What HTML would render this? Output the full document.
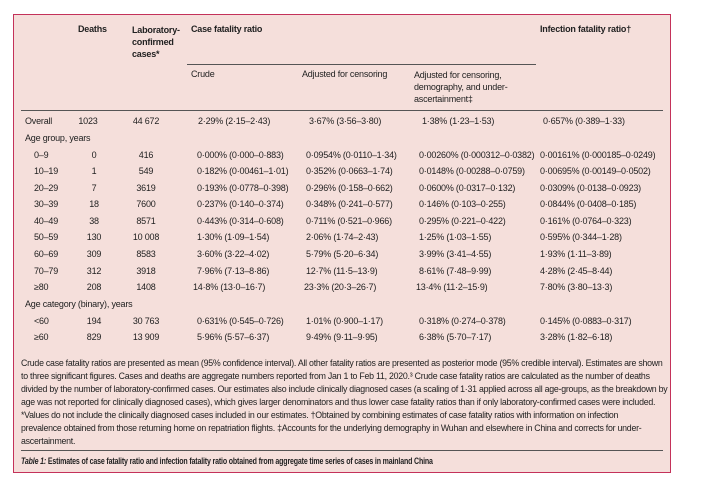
<!DOCTYPE html>
<html><head><meta charset="utf-8"><style>
body{margin:0;width:702px;height:478px;background:#fff;font-family:"Liberation Sans",sans-serif;color:#222;position:relative;overflow:hidden}
.box{position:absolute;left:13px;top:14px;width:656px;height:457px;background:#f5dfdb;border:1px solid #c4325a}
.t{position:absolute;font-size:9px;white-space:nowrap;line-height:11px;letter-spacing:-0.2px}
.b{font-weight:bold}
.c{text-align:center;width:40px}
.hl{position:absolute;height:1px;background:#555}
.f{position:absolute;left:21px;font-size:8.8px;white-space:nowrap;letter-spacing:-0.25px;line-height:11px}
</style></head><body>
<div class="box"></div>
<div class="t b" style="left:78px;top:24px">Deaths</div>
<div class="t b" style="left:132px;top:24px;line-height:12px">Laboratory-<br>confirmed<br>cases*</div>
<div class="t b" style="left:191px;top:24px">Case fatality ratio</div>
<div class="t b" style="left:540px;top:24px">Infection fatality ratio†</div>
<div class="hl" style="left:187px;top:64px;width:349px"></div>
<div class="t" style="left:191px;top:69px">Crude</div>
<div class="t" style="left:302px;top:69px">Adjusted for censoring</div>
<div class="t" style="left:414px;top:69px;line-height:12px">Adjusted for censoring,<br>demography, and under-<br>ascertainment‡</div>
<div class="hl" style="left:21px;top:110px;width:642px"></div>

<div class="t" style="left:25px;top:116px">Overall</div><div class="t c" style="left:68px;top:116px">1023</div><div class="t c" style="left:126px;top:116px">44 672</div><div class="t" style="left:198px;top:116px">2·29% (2·15–2·43)</div><div class="t" style="left:309px;top:116px">3·67% (3·56–3·80)</div><div class="t" style="left:422px;top:116px">1·38% (1·23–1·53)</div><div class="t" style="left:543px;top:116px">0·657% (0·389–1·33)</div>
<div class="t" style="left:25px;top:133px">Age group, years</div>

<div class="t" style="left:34px;top:150px">0–9</div><div class="t c" style="left:74px;top:150px">0</div><div class="t c" style="left:126px;top:150px">416</div><div class="t" style="left:197px;top:150px">0·000% (0·000–0·883)</div><div class="t" style="left:306px;top:150px">0·0954% (0·0110–1·34)</div><div class="t" style="left:419px;top:150px">0·00260% (0·000312–0·0382)</div><div class="t" style="left:540px;top:150px">0·00161% (0·000185–0·0249)</div>
<div class="t" style="left:34px;top:166px">10–19</div><div class="t c" style="left:74px;top:166px">1</div><div class="t c" style="left:126px;top:166px">549</div><div class="t" style="left:197px;top:166px">0·182% (0·00461–1·01)</div><div class="t" style="left:306px;top:166px">0·352% (0·0663–1·74)</div><div class="t" style="left:419px;top:166px">0·0148% (0·00288–0·0759)</div><div class="t" style="left:540px;top:166px">0·00695% (0·00149–0·0502)</div>
<div class="t" style="left:34px;top:183px">20–29</div><div class="t c" style="left:74px;top:183px">7</div><div class="t c" style="left:126px;top:183px">3619</div><div class="t" style="left:197px;top:183px">0·193% (0·0778–0·398)</div><div class="t" style="left:306px;top:183px">0·296% (0·158–0·662)</div><div class="t" style="left:419px;top:183px">0·0600% (0·0317–0·132)</div><div class="t" style="left:540px;top:183px">0·0309% (0·0138–0·0923)</div>
<div class="t" style="left:34px;top:199px">30–39</div><div class="t c" style="left:74px;top:199px">18</div><div class="t c" style="left:126px;top:199px">7600</div><div class="t" style="left:197px;top:199px">0·237% (0·140–0·374)</div><div class="t" style="left:306px;top:199px">0·348% (0·241–0·577)</div><div class="t" style="left:419px;top:199px">0·146% (0·103–0·255)</div><div class="t" style="left:540px;top:199px">0·0844% (0·0408–0·185)</div>
<div class="t" style="left:34px;top:216px">40–49</div><div class="t c" style="left:74px;top:216px">38</div><div class="t c" style="left:126px;top:216px">8571</div><div class="t" style="left:197px;top:216px">0·443% (0·314–0·608)</div><div class="t" style="left:306px;top:216px">0·711% (0·521–0·966)</div><div class="t" style="left:419px;top:216px">0·295% (0·221–0·422)</div><div class="t" style="left:540px;top:216px">0·161% (0·0764–0·323)</div>
<div class="t" style="left:34px;top:232px">50–59</div><div class="t c" style="left:74px;top:232px">130</div><div class="t c" style="left:126px;top:232px">10 008</div><div class="t" style="left:197px;top:232px">1·30% (1·09–1·54)</div><div class="t" style="left:306px;top:232px">2·06% (1·74–2·43)</div><div class="t" style="left:419px;top:232px">1·25% (1·03–1·55)</div><div class="t" style="left:540px;top:232px">0·595% (0·344–1·28)</div>
<div class="t" style="left:34px;top:249px">60–69</div><div class="t c" style="left:74px;top:249px">309</div><div class="t c" style="left:126px;top:249px">8583</div><div class="t" style="left:197px;top:249px">3·60% (3·22–4·02)</div><div class="t" style="left:306px;top:249px">5·79% (5·20–6·34)</div><div class="t" style="left:419px;top:249px">3·99% (3·41–4·55)</div><div class="t" style="left:540px;top:249px">1·93% (1·11–3·89)</div>
<div class="t" style="left:34px;top:266px">70–79</div><div class="t c" style="left:74px;top:266px">312</div><div class="t c" style="left:126px;top:266px">3918</div><div class="t" style="left:197px;top:266px">7·96% (7·13–8·86)</div><div class="t" style="left:306px;top:266px">12·7% (11·5–13·9)</div><div class="t" style="left:419px;top:266px">8·61% (7·48–9·99)</div><div class="t" style="left:540px;top:266px">4·28% (2·45–8·44)</div>
<div class="t" style="left:34px;top:282px">≥80</div><div class="t c" style="left:74px;top:282px">208</div><div class="t c" style="left:126px;top:282px">1408</div><div class="t" style="left:193px;top:282px">14·8% (13·0–16·7)</div><div class="t" style="left:304px;top:282px">23·3% (20·3–26·7)</div><div class="t" style="left:416px;top:282px">13·4% (11·2–15·9)</div><div class="t" style="left:540px;top:282px">7·80% (3·80–13·3)</div>
<div class="t" style="left:25px;top:299px">Age category (binary), years</div>
<div class="t" style="left:34px;top:316px">&lt;60</div><div class="t c" style="left:74px;top:316px">194</div><div class="t c" style="left:126px;top:316px">30 763</div><div class="t" style="left:197px;top:316px">0·631% (0·545–0·726)</div><div class="t" style="left:306px;top:316px">1·01% (0·900–1·17)</div><div class="t" style="left:419px;top:316px">0·318% (0·274–0·378)</div><div class="t" style="left:540px;top:316px">0·145% (0·0883–0·317)</div>
<div class="t" style="left:34px;top:332px">≥60</div><div class="t c" style="left:74px;top:332px">829</div><div class="t c" style="left:126px;top:332px">13 909</div><div class="t" style="left:197px;top:332px">5·96% (5·57–6·37)</div><div class="t" style="left:306px;top:332px">9·49% (9·11–9·95)</div><div class="t" style="left:419px;top:332px">6·38% (5·70–7·17)</div><div class="t" style="left:540px;top:332px">3·28% (1·82–6·18)</div>

<div class="f" style="top:358px">Crude case fatality ratios are presented as mean (95% confidence interval). All other fatality ratios are presented as posterior mode (95% credible interval). Estimates are shown</div>
<div class="f" style="top:371px">to three significant figures. Cases and deaths are aggregate numbers reported from Jan 1 to Feb 11, 2020.³ Crude case fatality ratios are calculated as the number of deaths</div>
<div class="f" style="top:384px">divided by the number of laboratory-confirmed cases. Our estimates also include clinically diagnosed cases (a scaling of 1·31 applied across all age-groups, as the breakdown by</div>
<div class="f" style="top:397px">age was not reported for clinically diagnosed cases), which gives larger denominators and thus lower case fatality ratios than if only laboratory-confirmed cases were included.</div>
<div class="f" style="top:410px">*Values do not include the clinically diagnosed cases included in our estimates. †Obtained by combining estimates of case fatality ratios with information on infection</div>
<div class="f" style="top:423px">prevalence obtained from those returning home on repatriation flights. ‡Accounts for the underlying demography in Wuhan and elsewhere in China and corrects for under-</div>
<div class="f" style="top:436px">ascertainment.</div>
<div class="hl" style="left:21px;top:450px;width:642px"></div>
<div class="t b" style="left:21px;top:456px;font-size:8.8px;transform:scaleX(0.8);transform-origin:left center"><i>Table 1:</i> Estimates of case fatality ratio and infection fatality ratio obtained from aggregate time series of cases in mainland China</div>
</body></html>
